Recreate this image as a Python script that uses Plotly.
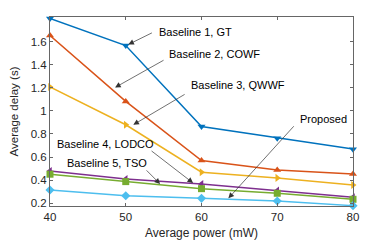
import plotly.graph_objects as go

power = [40, 50, 60, 70, 80]
gt = [1.80, 1.565, 0.865, 0.764, 0.669]
cowf = [1.652, 1.082, 0.570, 0.489, 0.454]
qwwf = [1.207, 0.880, 0.469, 0.420, 0.359]
lodco = [0.480, 0.411, 0.368, 0.310, 0.252]
tso = [0.452, 0.388, 0.327, 0.287, 0.235]
proposed = [0.315, 0.266, 0.243, 0.220, 0.180]

ytick_vals = [0.2, 0.4, 0.6, 0.8, 1.0, 1.2, 1.4, 1.6]
ytick_text = ["0.2", "0.4", "0.6", "0.8", "1", "1.2", "1.4", "1.6"]
xtick_vals = [40, 50, 60, 70, 80]

series = [
    ("Baseline 1, GT", gt, "#0072BD", "triangle-down"),
    ("Baseline 2, COWF", cowf, "#D95319", "triangle-up"),
    ("Baseline 3, QWWF", qwwf, "#EDB120", "triangle-right"),
    ("Baseline 4, LODCO", lodco, "#7E2F8E", "triangle-left"),
    ("Baseline 5, TSO", tso, "#77AC30", "square"),
    ("Proposed", proposed, "#4DBEEE", "diamond"),
]

FONT = "Liberation Sans, Arial, sans-serif"

fig = go.Figure()
for name, vals, col, sym in series:
    fig.add_trace(go.Scatter(
        x=power, y=vals, mode="lines+markers", name=name,
        line=dict(color=col, width=1.5),
        marker=dict(color=col, symbol=sym, size=7),
        cliponaxis=False,
    ))

# labels (text) and arrows (tail -> head), in data coordinates
labels = [
    ("Baseline 1, GT", 54.13, 1.678),
    ("Baseline 2, COWF", 55.46, 1.496),
    ("Baseline 3, QWWF", 58.36, 1.227),
    ("Baseline 4, LODCO", 40.66, 0.715),
    ("Baseline 5, TSO", 41.98, 0.550),
    ("Proposed", 72.76, 0.932),
]
arrows = [
    (53.65, 1.681, 50.34, 1.574),
    (55.19, 1.445, 48.59, 1.202),
    (57.97, 1.150, 51.00, 0.880),
    (53.21, 0.663, 58.89, 0.376),
    (52.55, 0.498, 54.53, 0.368),
    (72.36, 0.880, 63.55, 0.243),
]

annotations = []
for txt, x, y in labels:
    annotations.append(dict(
        x=x, y=y, xref="x", yref="y", text=txt, showarrow=False,
        xanchor="left", yanchor="middle",
        font=dict(family=FONT, size=11, color="#000"),
    ))
for tx, ty, hx, hy in arrows:
    annotations.append(dict(
        x=hx, y=hy, ax=tx, ay=ty, xref="x", yref="y", axref="x", ayref="y",
        text="", showarrow=True, arrowhead=2, arrowsize=1.6, arrowwidth=0.7,
        arrowcolor="#333333", standoff=0, startstandoff=0,
    ))

axis_common = dict(
    showline=True, linecolor="#666666", linewidth=1, mirror="ticks",
    ticks="inside", ticklen=3, tickcolor="#666666", showgrid=False, zeroline=False,
    automargin=False,
    tickfont=dict(family=FONT, size=11.5, color="#262626"),
)

# the page body has an 8px default margin, so the figure is offset by 8px
fig.update_layout(
    width=382, height=233,
    margin=dict(l=42, r=37, t=9, b=35, autoexpand=False),
    plot_bgcolor="white", paper_bgcolor="white",
    showlegend=False,
    annotations=annotations,
    xaxis=dict(range=[40, 80], tickvals=xtick_vals,
               title=dict(text="Average power (mW)", standoff=6,
                          font=dict(family=FONT, size=12, color="#262626")),
               **axis_common),
    yaxis=dict(range=[0.177, 1.812], tickvals=ytick_vals, ticktext=ytick_text,
               title=dict(text="Average delay (s)", standoff=9,
                          font=dict(family=FONT, size=11.5, color="#262626")),
               **axis_common),
)

fig.write_html("out.html")
